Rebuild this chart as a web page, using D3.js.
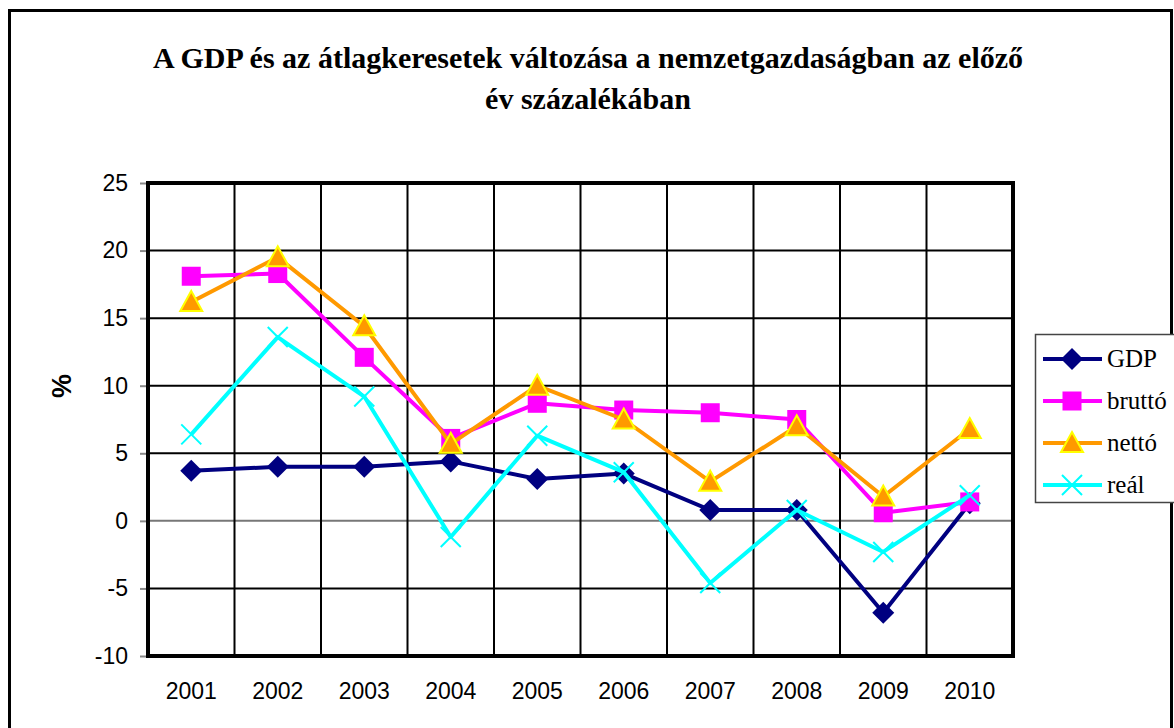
<!DOCTYPE html>
<html>
<head>
<meta charset="utf-8">
<script src="https://cdn.jsdelivr.net/npm/d3@7"></script>
<style>
  body { margin: 0; background: #fff; }
  svg { display: block; }
  .tick text { font-family: "Liberation Sans", Arial, sans-serif; font-size: 23px; fill: #000; }
</style>
</head>
<body>
<div id="chart"></div>
<script>
var years = ['2001','2002','2003','2004','2005','2006','2007','2008','2009','2010'];
var gdp    = [3.7, 4.0, 4.0, 4.4, 3.1, 3.5, 0.8, 0.8, -6.8, 1.3];
var brutto = [18.1, 18.3, 12.1, 6.1, 8.7, 8.2, 8.0, 7.5, 0.6, 1.4];
var netto  = [16.2, 19.5, 14.4, 5.7, 10.0, 7.5, 2.9, 7.0, 1.8, 6.8];
var real   = [6.4, 13.6, 9.2, -1.2, 6.3, 3.6, -4.6, 0.8, -2.3, 1.9];
var yTicks = [-10, -5, 0, 5, 10, 15, 20, 25];

var series = [
    { name: 'GDP',    values: gdp,    color: '#000080', marker: 'diamond' },
    { name: 'bruttó', values: brutto, color: '#FF00FF', marker: 'square' },
    { name: 'nettó',  values: netto,  color: '#FF9900', marker: 'triangle' },
    { name: 'reál',   values: real,   color: '#00FFFF', marker: 'cross' }
];

var W = 1174, H = 728;
var plot = { left: 148, top: 183, right: 1013, bottom: 656 };

var svg = d3.select('#chart').append('svg').attr('width', W).attr('height', H);

// outer frame
svg.append('rect').attr('x', 9.5).attr('y', 10.5).attr('width', 1162).attr('height', 740)
    .attr('fill', '#fff').attr('stroke', '#000').attr('stroke-width', 3);

// title
var title = svg.append('text').attr('text-anchor', 'middle')
    .style('font-family', '"Liberation Serif", "Times New Roman", serif')
    .style('font-weight', 'bold').style('font-size', '30px');
title.append('tspan').attr('x', 588).attr('y', 68)
    .text('A GDP és az átlagkeresetek változása a nemzetgazdaságban az előző');
title.append('tspan').attr('x', 588).attr('y', 109).text('év százalékában');

var x = d3.scaleBand().domain(years).range([plot.left, plot.right]).paddingInner(0).paddingOuter(0);
var y = d3.scaleLinear().domain([-10, 25]).range([plot.bottom, plot.top]);

// grid
var grid = svg.append('g');
grid.selectAll('.hgrid').data(yTicks).enter().append('line')
    .attr('x1', plot.left).attr('x2', plot.right)
    .attr('y1', function (d) { return y(d); }).attr('y2', function (d) { return y(d); })
    .attr('stroke', function (d) { return d === 0 ? '#777' : '#000'; })
    .attr('stroke-width', 2);
grid.selectAll('.vgrid').data(years.slice(1)).enter().append('line')
    .attr('x1', function (d) { return x(d); }).attr('x2', function (d) { return x(d); })
    .attr('y1', plot.top).attr('y2', plot.bottom)
    .attr('stroke', '#000').attr('stroke-width', 2);

// axes
var yAxis = svg.append('g').attr('transform', 'translate(' + plot.left + ',0)')
    .call(d3.axisLeft(y).tickValues(yTicks).tickSize(8).tickPadding(12)
        .tickFormat(function (d) { return String(d); }));
yAxis.select('.domain').remove();
yAxis.selectAll('.tick line').attr('stroke', '#888').attr('stroke-width', 2);

var xAxis = svg.append('g').attr('transform', 'translate(0,' + plot.bottom + ')')
    .call(d3.axisBottom(x).tickSize(0).tickPadding(27));
xAxis.select('.domain').remove();

// plot border
svg.append('rect').attr('x', plot.left).attr('y', plot.top)
    .attr('width', plot.right - plot.left).attr('height', plot.bottom - plot.top)
    .attr('fill', 'none').attr('stroke', '#000').attr('stroke-width', 4);

// y label
svg.append('text').attr('transform', 'translate(71,386) rotate(-90)')
    .attr('text-anchor', 'middle')
    .style('font-family', '"Liberation Sans", Arial, sans-serif')
    .style('font-weight', 'bold').style('font-size', '27px').text('%');

function drawMarker(g, type, color) {
    if (type === 'diamond') {
        g.append('path').attr('d', 'M0,-11L11,0L0,11L-11,0Z').attr('fill', color);
    } else if (type === 'square') {
        g.append('rect').attr('x', -9.5).attr('y', -9.5).attr('width', 19).attr('height', 19).attr('fill', color);
    } else if (type === 'triangle') {
        g.append('path').attr('d', 'M0,-11L11,9L-11,9Z').attr('fill', color)
            .attr('stroke', '#FFFF00').attr('stroke-width', 2);
    } else if (type === 'cross') {
        g.append('path').attr('d', 'M-10,-10L10,10M-10,10L10,-10').attr('stroke', color).attr('stroke-width', 2);
    }
}

var line = d3.line()
    .x(function (d, i) { return x(years[i]) + x.bandwidth() / 2; })
    .y(function (d) { return y(d); });

var seriesG = svg.append('g').selectAll('.series').data(series).enter().append('g');
seriesG.append('path').attr('d', function (s) { return line(s.values); })
    .attr('fill', 'none').attr('stroke', function (s) { return s.color; })
    .attr('stroke-width', 4).attr('stroke-linejoin', 'round');
seriesG.each(function (s) {
    var g = d3.select(this);
    s.values.forEach(function (v, i) {
        var m = g.append('g').attr('transform', 'translate(' + (x(years[i]) + x.bandwidth() / 2) + ',' + y(v) + ')');
        drawMarker(m, s.marker, s.color);
    });
});

// legend
var legend = svg.append('g').attr('transform', 'translate(1035,334)');
legend.append('rect').attr('x', 0.5).attr('y', 0.5).attr('width', 150).attr('height', 168)
    .attr('fill', '#fff').attr('stroke', '#444').attr('stroke-width', 1.5);
var items = legend.selectAll('.item').data(series).enter().append('g')
    .attr('transform', function (d, i) { return 'translate(0,' + (25 + i * 42) + ')'; });
items.append('line').attr('x1', 8).attr('x2', 67).attr('y1', 0).attr('y2', 0)
    .attr('stroke', function (d) { return d.color; }).attr('stroke-width', 4);
items.each(function (d) {
    var m = d3.select(this).append('g').attr('transform', 'translate(37,0)');
    drawMarker(m, d.marker, d.color);
});
items.append('text').attr('x', 72).attr('y', 8)
    .style('font-family', '"Liberation Serif", "Times New Roman", serif')
    .style('font-size', '25px').text(function (d) { return d.name; });
</script>
</body>
</html>
